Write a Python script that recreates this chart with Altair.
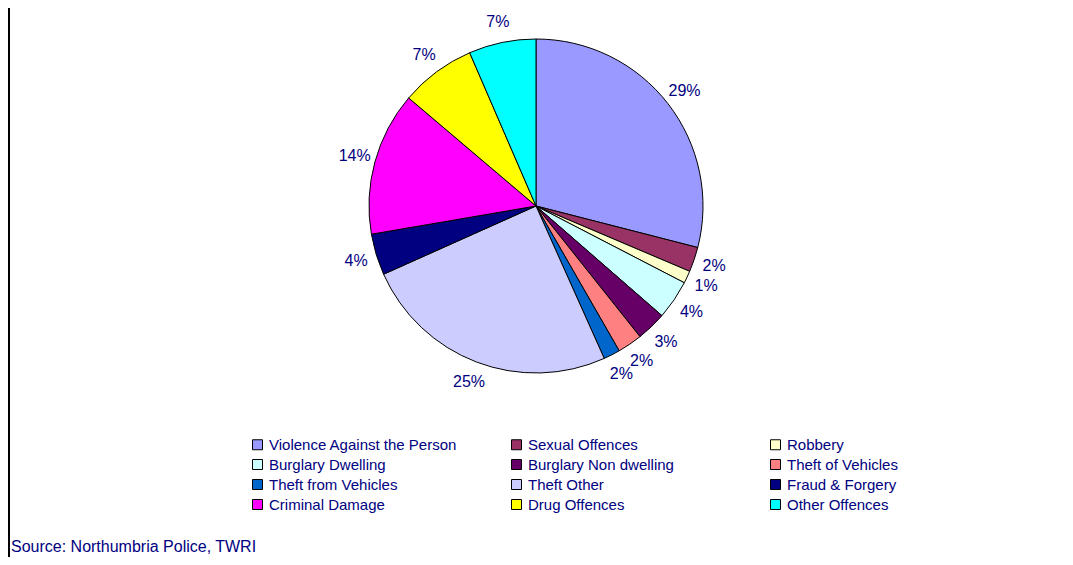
import altair as alt
import pandas as pd

categories = [
    "Violence Against the Person", "Sexual Offences", "Robbery",
    "Burglary Dwelling", "Burglary Non dwelling", "Theft of Vehicles",
    "Theft from Vehicles", "Theft Other", "Fraud & Forgery",
    "Criminal Damage", "Drug Offences", "Other Offences",
]
shares = [29.0, 2.4, 1.2, 3.8, 2.9, 2.4, 1.6, 25.0, 4.0, 13.9, 7.3, 6.5]
labels = ["29%", "2%", "1%", "4%", "3%", "2%", "2%", "25%", "4%", "14%", "7%", "7%"]
colors = ["#9999FF", "#993366", "#FFFFCC", "#CCFFFF", "#660066", "#FF8080",
          "#0066CC", "#CCCCFF", "#000080", "#FF00FF", "#FFFF00", "#00FFFF"]
source_text = "Source: Northumbria Police, TWRI"

FONT = "Liberation Sans"
NAVY = "#000080"

df = pd.DataFrame({
    "category": categories,
    "share": shares,
    "label": labels,
    "idx": list(range(len(categories))),
})

cx, cy = 528, 198

base = alt.Chart(df).encode(
    theta=alt.Theta("share:Q", stack=True),
    order=alt.Order("idx:Q"),
    x=alt.value(cx),
    y=alt.value(cy),
)

pie = base.mark_arc(outerRadius=167, stroke="black", strokeWidth=1).encode(
    color=alt.Color(
        "category:N",
        scale=alt.Scale(domain=categories, range=colors),
        legend=alt.Legend(
            title=None,
            orient="none",
            direction="horizontal",
            legendX=242,
            legendY=429,
            columns=3,
            gridAlign="all",
            columnPadding=51,
            rowPadding=4,
            symbolType="square",
            symbolSize=100,
            symbolStrokeColor="black",
            symbolStrokeWidth=1,
            symbolOpacity=1,
            labelFont=FONT,
            labelFontSize=15,
            labelColor=NAVY,
            labelLimit=400,
            labelOffset=4,
        ),
    ),
)

text = base.mark_text(radius=188, font=FONT, fontSize=16, color=NAVY,
                      align="center", baseline="middle").encode(
    text="label:N"
)

src = alt.Chart(alt.Data(values=[{"t": source_text}])).mark_text(
    font=FONT, fontSize=16, color=NAVY, align="left", baseline="middle"
).encode(text="t:N", x=alt.value(3), y=alt.value(539))

border = alt.Chart(alt.Data(values=[{"a": 1}])).mark_rule(
    color="black", strokeWidth=2
).encode(x=alt.value(1), y=alt.value(0), y2=alt.value(549))

chart = alt.layer(pie, text, src, border).properties(
    width=1057, height=549, autosize=alt.AutoSizeParams(type="none"),
    padding=0, background="white",
).configure_view(stroke=None)

chart.save("out.html", embed_options={"renderer": "svg", "actions": False})
